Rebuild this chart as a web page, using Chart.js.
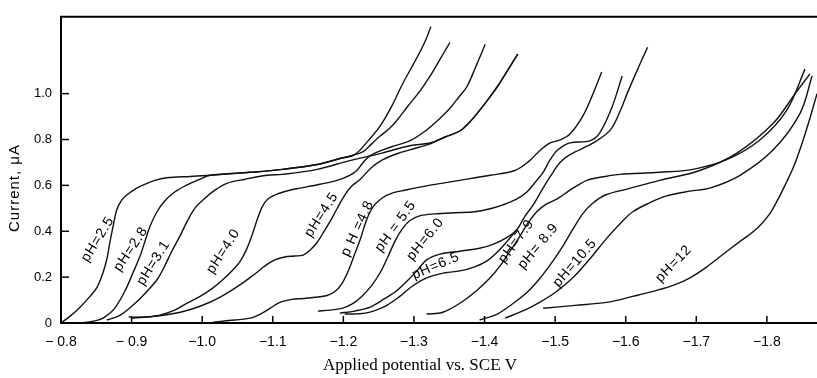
<!DOCTYPE html>
<html>
<head>
<meta charset="utf-8">
<script src="https://cdn.jsdelivr.net/npm/chart.js@4.4.1/dist/chart.umd.min.js"></script>
<style>
  body { margin: 0; background: #fff; }
  canvas { display: block; }
</style>
</head>
<body>
<canvas id="chart" width="817" height="378"></canvas>
<script>
// polarographic waves (potential V vs SCE, current uA)
const ph25Potential = [-0.800, -0.813, -0.827, -0.841, -0.851, -0.859, -0.865, -0.869, -0.874, -0.879, -0.886, -0.893, -0.905, -0.916, -0.933, -0.950, -0.983, -1.011, -1.068, -1.114, -1.163, -1.195, -1.216, -1.235, -1.252, -1.269, -1.284, -1.297, -1.309, -1.317, -1.324]
const ph25Current = [0, 0.030, 0.069, 0.116, 0.155, 0.215, 0.279, 0.348, 0.425, 0.494, 0.536, 0.558, 0.584, 0.601, 0.622, 0.633, 0.639, 0.644, 0.657, 0.670, 0.691, 0.717, 0.734, 0.794, 0.858, 0.948, 1.043, 1.116, 1.185, 1.236, 1.292]

const ph28Potential = [-0.827, -0.848, -0.862, -0.876, -0.891, -0.902, -0.912, -0.919, -0.926, -0.936, -0.947, -0.961, -0.978, -0.997, -1.011, -1.068, -1.114, -1.163, -1.195, -1.216, -1.228, -1.240, -1.252, -1.266, -1.276, -1.291, -1.309, -1.323, -1.333, -1.342, -1.351]
const ph28Current = [0, 0.009, 0.026, 0.064, 0.142, 0.219, 0.292, 0.356, 0.421, 0.485, 0.532, 0.571, 0.601, 0.627, 0.644, 0.657, 0.670, 0.691, 0.717, 0.734, 0.747, 0.781, 0.815, 0.850, 0.884, 0.944, 1.013, 1.077, 1.129, 1.176, 1.223]

const ph31Potential = [-0.865, -0.884, -0.905, -0.923, -0.937, -0.947, -0.957, -0.969, -0.980, -0.990, -1.001, -1.018, -1.035, -1.061, -1.092, -1.114, -1.163, -1.209, -1.256, -1.294, -1.323, -1.344, -1.365, -1.379, -1.393, -1.408, -1.418, -1.433, -1.447]
const ph31Current = [0.013, 0.034, 0.086, 0.142, 0.193, 0.249, 0.313, 0.382, 0.451, 0.502, 0.536, 0.579, 0.609, 0.627, 0.644, 0.648, 0.670, 0.708, 0.742, 0.773, 0.785, 0.811, 0.837, 0.876, 0.927, 0.987, 1.030, 1.103, 1.172]

const ph40Potential = [-0.896, -0.919, -0.940, -0.961, -0.978, -0.997, -1.014, -1.028, -1.042, -1.054, -1.063, -1.071, -1.078, -1.085, -1.093, -1.106, -1.124, -1.139, -1.167, -1.191, -1.209, -1.219, -1.228, -1.238, -1.256, -1.273, -1.294, -1.316, -1.337, -1.351, -1.365, -1.375, -1.388, -1.401]
const ph40Current = [0.026, 0.026, 0.034, 0.056, 0.086, 0.116, 0.150, 0.185, 0.227, 0.270, 0.322, 0.386, 0.451, 0.506, 0.541, 0.562, 0.579, 0.588, 0.605, 0.622, 0.644, 0.665, 0.700, 0.730, 0.755, 0.773, 0.794, 0.837, 0.893, 0.936, 0.991, 1.030, 1.120, 1.215]

const ph45Potential = [-0.901, -0.936, -0.969, -0.997, -1.025, -1.054, -1.075, -1.089, -1.103, -1.117, -1.131, -1.143, -1.153, -1.163, -1.171, -1.181, -1.191, -1.202, -1.212, -1.224, -1.240, -1.256, -1.276, -1.294, -1.323, -1.344, -1.365, -1.379, -1.393, -1.408, -1.418, -1.433, -1.447]
const ph45Current = [0.021, 0.030, 0.047, 0.073, 0.112, 0.167, 0.215, 0.249, 0.275, 0.288, 0.292, 0.296, 0.318, 0.352, 0.391, 0.442, 0.498, 0.558, 0.597, 0.627, 0.678, 0.712, 0.738, 0.755, 0.781, 0.811, 0.837, 0.876, 0.927, 0.987, 1.030, 1.103, 1.172]

const ph48Potential = [-1.015, -1.046, -1.068, -1.085, -1.096, -1.110, -1.127, -1.143, -1.160, -1.177, -1.188, -1.198, -1.207, -1.215, -1.224, -1.232, -1.242, -1.255, -1.270, -1.287, -1.323, -1.365, -1.408, -1.443, -1.464, -1.478, -1.493, -1.507, -1.521, -1.539, -1.552, -1.566]
const ph48Current = [0.004, 0.013, 0.021, 0.043, 0.064, 0.090, 0.103, 0.107, 0.112, 0.120, 0.137, 0.172, 0.227, 0.292, 0.365, 0.442, 0.506, 0.545, 0.567, 0.579, 0.601, 0.622, 0.644, 0.665, 0.708, 0.751, 0.785, 0.798, 0.824, 0.901, 0.987, 1.094]

const ph55Potential = [-1.164, -1.181, -1.198, -1.212, -1.226, -1.240, -1.252, -1.263, -1.273, -1.283, -1.294, -1.309, -1.330, -1.358, -1.386, -1.408, -1.426, -1.446, -1.460, -1.474, -1.483, -1.493, -1.504, -1.521, -1.549, -1.563, -1.580, -1.595]
const ph55Current = [0.052, 0.056, 0.064, 0.082, 0.116, 0.163, 0.219, 0.288, 0.356, 0.408, 0.446, 0.468, 0.476, 0.481, 0.485, 0.498, 0.515, 0.541, 0.571, 0.622, 0.657, 0.712, 0.755, 0.785, 0.794, 0.828, 0.936, 1.077]

const ph60Potential = [-1.195, -1.216, -1.238, -1.259, -1.276, -1.291, -1.304, -1.318, -1.337, -1.365, -1.393, -1.412, -1.432, -1.446, -1.457, -1.469, -1.478, -1.488, -1.497, -1.507, -1.521, -1.554, -1.578, -1.592, -1.602, -1.617, -1.631]
const ph60Current = [0.043, 0.052, 0.069, 0.107, 0.142, 0.185, 0.227, 0.275, 0.300, 0.313, 0.326, 0.343, 0.373, 0.408, 0.464, 0.515, 0.562, 0.614, 0.657, 0.700, 0.734, 0.785, 0.841, 0.923, 1.000, 1.107, 1.202]

const ph65Potential = [-1.202, -1.231, -1.259, -1.280, -1.297, -1.318, -1.344, -1.365, -1.386, -1.403, -1.418, -1.432, -1.446]
const ph65Current = [0.039, 0.043, 0.073, 0.116, 0.159, 0.197, 0.219, 0.227, 0.245, 0.270, 0.309, 0.356, 0.408]

const ph79Potential = [-1.318, -1.341, -1.365, -1.389, -1.408, -1.422, -1.436, -1.450, -1.461, -1.474, -1.488, -1.503, -1.521, -1.545, -1.571, -1.592, -1.648, -1.695, -1.743, -1.790, -1.828, -1.854]
const ph79Current = [0.039, 0.047, 0.086, 0.142, 0.197, 0.249, 0.313, 0.378, 0.433, 0.485, 0.519, 0.541, 0.579, 0.622, 0.639, 0.648, 0.657, 0.670, 0.712, 0.798, 0.927, 1.107]

const ph89Potential = [-1.393, -1.418, -1.439, -1.460, -1.478, -1.495, -1.511, -1.525, -1.539, -1.552, -1.571, -1.602, -1.648, -1.705, -1.758, -1.809, -1.840, -1.861]
const ph89Current = [0.013, 0.039, 0.082, 0.133, 0.193, 0.262, 0.335, 0.408, 0.476, 0.519, 0.558, 0.584, 0.622, 0.665, 0.742, 0.871, 1.000, 1.086]

const ph105Potential = [-1.429, -1.457, -1.478, -1.500, -1.525, -1.549, -1.573, -1.592, -1.610, -1.634, -1.658, -1.691, -1.719, -1.762, -1.809, -1.847, -1.864]
const ph105Current = [0.021, 0.056, 0.090, 0.133, 0.197, 0.279, 0.369, 0.433, 0.485, 0.524, 0.554, 0.575, 0.588, 0.644, 0.755, 0.914, 1.077]

const ph12Potential = [-1.483, -1.528, -1.573, -1.610, -1.644, -1.670, -1.691, -1.715, -1.738, -1.762, -1.786, -1.804, -1.816, -1.827, -1.838, -1.851, -1.861, -1.871]
const ph12Current = [0.064, 0.077, 0.090, 0.116, 0.142, 0.167, 0.197, 0.245, 0.300, 0.356, 0.412, 0.476, 0.541, 0.609, 0.682, 0.794, 0.893, 1.000]

const xTicks = [-0.8, -0.9, -1.0, -1.1, -1.2, -1.3, -1.4, -1.5, -1.6, -1.7, -1.8]
const yTicks = [0, 0.2, 0.4, 0.6, 0.8, 1.0]

const curves = [
    ['pH=2.5', ph25Potential, ph25Current],
    ['pH=2.8', ph28Potential, ph28Current],
    ['pH=3.1', ph31Potential, ph31Current],
    ['pH=4.0', ph40Potential, ph40Current],
    ['pH=4.5', ph45Potential, ph45Current],
    ['pH=4.8', ph48Potential, ph48Current],
    ['pH=5.5', ph55Potential, ph55Current],
    ['pH=6.0', ph60Potential, ph60Current],
    ['pH=6.5', ph65Potential, ph65Current],
    ['pH=7.9', ph79Potential, ph79Current],
    ['pH=8.9', ph89Potential, ph89Current],
    ['pH=10.5', ph105Potential, ph105Current],
    ['pH=12', ph12Potential, ph12Current]
]

// where the pH captions sit along the curves (text, V, I, rotation in degrees)
const curveLabels = [
    ['pH=2.5', -0.852, 0.365, -58],
    ['pH=2.8', -0.899, 0.322, -56],
    ['pH=3.1', -0.931, 0.262, -58],
    ['pH=4.0', -1.030, 0.313, -57],
    ['pH=4.5', -1.169, 0.472, -57],
    ['p H =4.8', -1.220, 0.412, -65],
    ['pH = 5.5', -1.274, 0.421, -54],
    ['pH=6.0', -1.316, 0.365, -51],
    ['pH=6.5', -1.331, 0.249, -23],
    ['pH=7.9', -1.445, 0.356, -54],
    ['pH= 8.9', -1.476, 0.335, -50],
    ['pH=10.5', -1.528, 0.262, -49],
    ['pH=12', -1.668, 0.258, -46]
]

const datasets = curves.map(([label, volts, amps]) => ({
    label: label,
    data: volts.map((v, i) => ({ x: v, y: amps[i] })),
    borderColor: '#111',
    borderWidth: 1.4,
    pointRadius: 0,
    fill: false,
    tension: 0.35
}))

const frameAndText = {
    id: 'frameAndText',
    afterDraw(chart) {
        const ctx = chart.ctx
        const area = chart.chartArea
        const xs = chart.scales.x
        const ys = chart.scales.y
        ctx.save()
        ctx.strokeStyle = '#000'

        // top border of the frame
        ctx.lineWidth = 2
        ctx.beginPath()
        ctx.moveTo(area.left - 1, area.top)
        ctx.lineTo(area.right, area.top)
        ctx.stroke()

        // tick marks pointing into the plot
        ctx.lineWidth = 1.5
        xTicks.slice(1).forEach(v => {
            const px = xs.getPixelForValue(v)
            ctx.beginPath()
            ctx.moveTo(px, area.bottom)
            ctx.lineTo(px, area.bottom - 7)
            ctx.stroke()
        })
        yTicks.slice(1).forEach(v => {
            const py = ys.getPixelForValue(v)
            ctx.beginPath()
            ctx.moveTo(area.left, py)
            ctx.lineTo(area.left + 8, py)
            ctx.stroke()
        })

        // pH captions
        ctx.fillStyle = '#000'
        ctx.font = '14px "Liberation Sans", Arial, sans-serif'
        ctx.letterSpacing = '0.8px'
        ctx.textAlign = 'center'
        ctx.textBaseline = 'middle'
        curveLabels.forEach(([text, v, a, angle]) => {
            ctx.save()
            ctx.translate(xs.getPixelForValue(v), ys.getPixelForValue(a))
            ctx.rotate(angle * Math.PI / 180)
            ctx.fillText(text, 0, 0)
            ctx.restore()
        })

        // axis titles
        ctx.save()
        ctx.translate(15, 188)
        ctx.rotate(-Math.PI / 2)
        ctx.font = '15px "Liberation Sans", Arial, sans-serif'
        ctx.letterSpacing = '1px'
        ctx.fillText('Current, μA', 0, 0)
        ctx.restore()

        ctx.letterSpacing = '0px'
        ctx.font = '17px "Liberation Serif", "Times New Roman", serif'
        ctx.fillText('Applied potential vs. SCE V', 420, 366)
        ctx.restore()
    }
}

new Chart(document.getElementById('chart').getContext('2d'), {
    type: 'line',
    data: { datasets: datasets },
    options: {
        responsive: false,
        animation: false,
        layout: { padding: { top: 12, left: 0, right: 0, bottom: 0 } },
        plugins: {
            legend: { display: false },
            tooltip: { enabled: false }
        },
        scales: {
            x: {
                type: 'linear',
                reverse: true,
                min: -1.871,
                max: -0.8,
                afterBuildTicks: scale => { scale.ticks = xTicks.map(v => ({ value: v })) },
                afterFit: scale => { scale.height = 55 },
                grid: { display: false, drawTicks: false },
                border: { display: true, color: '#000', width: 2 },
                ticks: {
                    padding: 11,
                    color: '#000',
                    font: { family: '"Liberation Sans", Arial, sans-serif', size: 14 },
                    callback: v => (v > -0.95 ? '− ' : '−') + Math.abs(v).toFixed(1)
                }
            },
            y: {
                type: 'linear',
                min: 0,
                max: 1.335,
                afterBuildTicks: scale => { scale.ticks = yTicks.map(v => ({ value: v })) },
                afterFit: scale => { scale.width = 61 },
                grid: { display: false, drawTicks: false },
                border: { display: true, color: '#000', width: 2 },
                ticks: {
                    padding: 9,
                    color: '#000',
                    font: { family: '"Liberation Sans", Arial, sans-serif', size: 13 },
                    callback: v => (v === 0 ? '0' : v.toFixed(1))
                }
            }
        }
    },
    plugins: [frameAndText]
})
</script>
</body>
</html>
